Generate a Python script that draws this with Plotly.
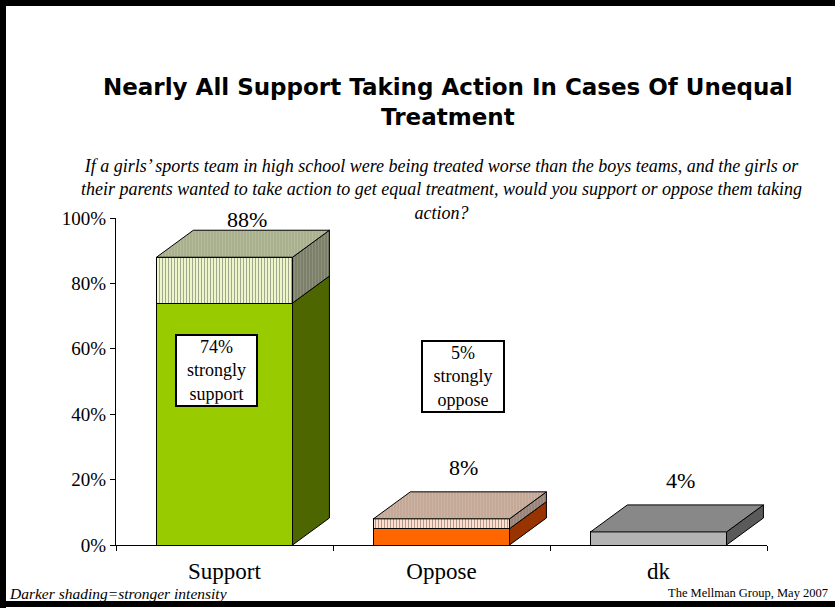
import plotly.graph_objects as go

# data
categories = ["Support", "Oppose", "dk"]
strongly = [74, 5, None]
not_strongly = [14, 3, None]
dont_know = [None, None, 4]
totals = [88, 8, 4]
y_ticks = [0, 20, 40, 60, 80, 100]
box_labels = ["74%<br>strongly<br>support", "5%<br>strongly<br>oppose"]

# colours: front, side, top
strong_front = ["#99CC00", "#FF6600", "white"]
strong_side = ["#4D6600", "#993300"]
light_front = ["#EDF6CB", "#FFDFCC", "white"]
light_stripe = ["#E0ECB8", "#F8D0BA", "white"]
light_side = ["#7C8068", "#9A847A"]
light_top = ["#A9B08C", "#C6A897"]
dk_front, dk_side, dk_top = "#B3B3B3", "#5A5A5A", "#888888"

W = 0.627    # bar width (category units)
DX = 0.17    # depth offset in x (category units)
DY = 8.26    # depth offset in y (percentage points)

# plot area in pixels
L, R, T, B = 116, 767, 218, 545


def px(x):
    return (x - L) / (R - L)


def py(y):
    return (B - y) / (B - T)


fig = go.Figure()

fig.add_trace(go.Bar(x=[0, 1, 2], y=strongly, width=W, marker_color=strong_front,
                     marker_line=dict(color="black", width=1), hoverinfo="skip"))
fig.add_trace(go.Bar(x=[0, 1, 2], y=not_strongly, width=W, marker_color=light_front,
                     marker_pattern=dict(shape="|", size=3, solidity=0.3, fgcolor=light_stripe),
                     marker_line=dict(color="black", width=1), hoverinfo="skip"))
fig.add_trace(go.Bar(x=[0, 1, 2], y=dont_know, width=W, marker_color=dk_front,
                     marker_line=dict(color="black", width=1), hoverinfo="skip"))


def side_face(i, b, t, color, pattern=False):
    x1 = i + W / 2
    kw = {}
    if pattern:
        kw["fillpattern"] = dict(shape="|", size=3, solidity=0.2, fgcolor="#B8B8B0")
    fig.add_trace(go.Scatter(x=[x1, x1 + DX, x1 + DX, x1, x1], y=[b, b + DY, t + DY, t, b],
                             mode="lines", fill="toself", fillcolor=color,
                             line=dict(color="black", width=1), hoverinfo="skip", **kw))


def top_face(i, t, color, pattern=False):
    x0, x1 = i - W / 2, i + W / 2
    kw = {}
    if pattern:
        kw["fillpattern"] = dict(shape="|", size=3, solidity=0.2, fgcolor="#CFCFC8")
    fig.add_trace(go.Scatter(x=[x0, x0 + DX, x1 + DX, x1, x0], y=[t, t + DY, t + DY, t, t],
                             mode="lines", fill="toself", fillcolor=color,
                             line=dict(color="black", width=1), hoverinfo="skip", **kw))


for i in range(2):
    side_face(i, 0, strongly[i], strong_side[i])
    side_face(i, strongly[i], totals[i], light_side[i], pattern=True)
    top_face(i, totals[i], light_top[i], pattern=True)
side_face(2, 0, dont_know[2], dk_side)
top_face(2, dont_know[2], dk_top)

# dummy trace so the category axis shows
fig.add_trace(go.Scatter(x=[0, 1, 2], y=[None, None, None], xaxis="x2", hoverinfo="skip"))

# total labels above bars
for i, t in enumerate(totals):
    fig.add_annotation(x=i + DX * 0.6, y=min(t + DY + 7.5, 99.5), text=f"{t}%", showarrow=False,
                       font=dict(family="Liberation Serif", size=22, color="black"))

# boxed "strongly" labels
fig.add_annotation(x=-0.039, y=53.5, text=box_labels[0], showarrow=False, bgcolor="white",
                   bordercolor="black", borderwidth=2, borderpad=1, width=77,
                   font=dict(family="Liberation Serif", size=18, color="black"))
fig.add_annotation(x=1.099, y=51.5, text=box_labels[1], showarrow=False, bgcolor="white",
                   bordercolor="black", borderwidth=2, borderpad=1, width=78,
                   font=dict(family="Liberation Serif", size=18, color="black"))

# title and question
fig.add_annotation(xref="paper", yref="paper", x=px(448), y=py(102), xanchor="center", yanchor="middle",
                   text="<b>Nearly All Support Taking Action In Cases Of Unequal<br>Treatment</b>",
                   showarrow=False, font=dict(family="DejaVu Sans", size=23, color="black"))
fig.add_annotation(xref="paper", yref="paper", x=px(441), y=py(190), xanchor="center", yanchor="middle",
                   text="<i>If a girls’ sports team in high school were being treated worse than the boys teams, and the girls or<br>"
                        "their parents wanted to take action to get equal treatment, would you support or oppose them taking<br>"
                        "action?</i>",
                   showarrow=False, font=dict(family="Liberation Serif", size=18, color="black"))

# footers
fig.add_annotation(xref="paper", yref="paper", x=px(7), y=py(593), xanchor="left", yanchor="middle",
                   text="<i>Darker shading=stronger intensity</i>", showarrow=False,
                   font=dict(family="Liberation Serif", size=15.5, color="black"))
fig.add_annotation(xref="paper", yref="paper", x=px(830), y=py(593), xanchor="right", yanchor="middle",
                   text="The Mellman Group, May 2007", showarrow=False,
                   font=dict(family="Liberation Serif", size=12.5, color="black"))

# frame: top, left, bottom
for x0, y0, x1, y1 in [(0, 3, 835, 3), (3, 0, 3, 608), (0, 604, 835, 604)]:
    fig.add_shape(type="line", xref="paper", yref="paper", x0=px(x0), x1=px(x1), y0=py(y0), y1=py(y1),
                  line=dict(color="black", width=6))

fig.update_layout(
    barmode="stack", showlegend=False, width=835, height=608,
    margin=dict(l=L, r=835 - R, t=T, b=608 - B),
    paper_bgcolor="white", plot_bgcolor="white",
    xaxis=dict(range=[-0.5, 2.5], showgrid=False, zeroline=False, showline=True, linecolor="black",
               ticks="outside", ticklen=5, tickcolor="black", tickvals=[-0.5, 0.5, 1.5, 2.5],
               showticklabels=False),
    xaxis2=dict(range=[-0.5, 2.5], overlaying="x", side="bottom", showgrid=False, zeroline=False,
                showline=False, ticks="", tickvals=[0, 1, 2], ticktext=categories, ticklabelstandoff=10,
                tickfont=dict(family="Liberation Serif", size=23, color="black")),
    yaxis=dict(range=[0, 100], showgrid=False, zeroline=False, showline=True, linecolor="black",
               ticks="outside", ticklen=5, tickcolor="black", tickvals=y_ticks,
               ticktext=[f"{v}%" for v in y_ticks],
               tickfont=dict(family="Liberation Serif", size=19, color="black")),
)

fig.write_html("out.html", config={"displayModeBar": False},
               post_script="document.body.style.margin='0';document.body.style.overflow='hidden';"
                           "document.documentElement.style.overflow='hidden';")
